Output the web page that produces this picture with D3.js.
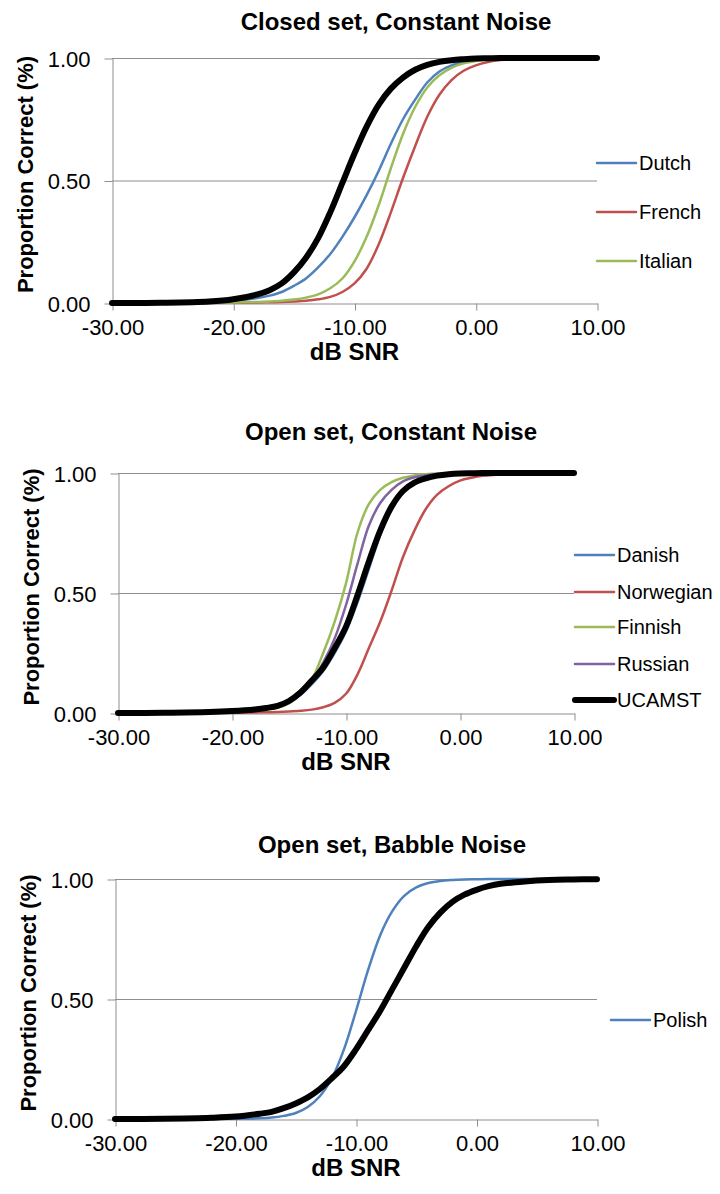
<!DOCTYPE html>
<html>
<head>
<meta charset="utf-8">
<script src="https://cdn.jsdelivr.net/npm/d3@7"></script>
<style>
  body { margin: 0; background: #fff; }
  svg { font-family: "Liberation Sans", Arial, Helvetica, sans-serif; }
  .grid line { stroke: #8e8e8e; stroke-width: 1; }
  .axis path, .axis line { stroke: #8e8e8e; stroke-width: 1; }
  .axis text { fill: #000; font-size: 22px; }
</style>
</head>
<body>
<script>
var snr = [-30, -26, -22, -20, -18, -17, -16, -15, -14, -13, -12, -11, -10, -9, -8, -7, -6, -5, -4, -3, -2, -1, 0, 1, 2, 4, 6, 8, 10];

var titles = ["Closed set, Constant Noise", "Open set, Constant Noise", "Open set, Babble Noise"];
var xTicks = [-30, -20, -10, 0, 10];
var yTicks = [0, 0.5, 1];

// closed set, constant noise
var dutch = [0, 0.001, 0.003, 0.008, 0.02, 0.03, 0.045, 0.07, 0.1, 0.145, 0.2, 0.27, 0.35, 0.44, 0.54, 0.65, 0.75, 0.83, 0.9, 0.945, 0.97, 0.985, 0.993, 0.997, 0.999, 1, 1, 1, 1];
var french = [0, 0, 0, 0.001, 0.002, 0.003, 0.004, 0.006, 0.009, 0.015, 0.025, 0.045, 0.08, 0.14, 0.24, 0.37, 0.51, 0.64, 0.76, 0.85, 0.91, 0.948, 0.97, 0.984, 0.992, 0.998, 0.999, 1, 1];
var italian = [0, 0, 0.001, 0.002, 0.004, 0.006, 0.009, 0.014, 0.022, 0.035, 0.06, 0.1, 0.17, 0.27, 0.4, 0.55, 0.69, 0.8, 0.88, 0.93, 0.96, 0.978, 0.988, 0.994, 0.997, 0.999, 1, 1, 1];
var ucamstClosed = [0, 0.001, 0.006, 0.015, 0.035, 0.052, 0.08, 0.125, 0.185, 0.265, 0.37, 0.49, 0.61, 0.72, 0.81, 0.875, 0.92, 0.952, 0.972, 0.984, 0.991, 0.995, 0.998, 0.999, 1, 1, 1, 1, 1];

// open set, constant noise
var danish = [0, 0.001, 0.004, 0.007, 0.013, 0.018, 0.025, 0.043, 0.075, 0.12, 0.175, 0.25, 0.34, 0.46, 0.6, 0.74, 0.85, 0.92, 0.958, 0.977, 0.988, 0.994, 0.997, 0.999, 1, 1, 1, 1, 1];
var norwegian = [0, 0, 0, 0.001, 0.002, 0.003, 0.004, 0.006, 0.009, 0.014, 0.024, 0.042, 0.08, 0.16, 0.27, 0.38, 0.51, 0.65, 0.76, 0.85, 0.91, 0.945, 0.968, 0.98, 0.988, 0.996, 0.999, 1, 1];
var finnish = [0, 0.001, 0.003, 0.006, 0.011, 0.015, 0.022, 0.04, 0.08, 0.14, 0.25, 0.38, 0.54, 0.75, 0.87, 0.93, 0.962, 0.98, 0.99, 0.995, 0.998, 0.999, 1, 1, 1, 1, 1, 1, 1];
var russian = [0, 0.001, 0.003, 0.006, 0.012, 0.017, 0.025, 0.045, 0.08, 0.13, 0.21, 0.31, 0.45, 0.62, 0.78, 0.875, 0.93, 0.965, 0.982, 0.991, 0.996, 0.998, 0.999, 1, 1, 1, 1, 1, 1];
var ucamstOpen = [0, 0.001, 0.004, 0.008, 0.015, 0.021, 0.03, 0.05, 0.085, 0.135, 0.19, 0.27, 0.36, 0.49, 0.63, 0.76, 0.86, 0.925, 0.96, 0.978, 0.989, 0.995, 0.998, 0.999, 1, 1, 1, 1, 1];

// open set, babble noise
var polish = [0, 0, 0, 0.001, 0.003, 0.006, 0.013, 0.025, 0.05, 0.095, 0.17, 0.29, 0.45, 0.62, 0.765, 0.865, 0.93, 0.965, 0.983, 0.992, 0.996, 0.998, 0.999, 1, 1, 1, 1, 1, 1];
var ucamstBabble = [0, 0.001, 0.005, 0.01, 0.022, 0.03, 0.045, 0.065, 0.09, 0.125, 0.17, 0.22, 0.29, 0.37, 0.45, 0.54, 0.63, 0.72, 0.8, 0.86, 0.905, 0.935, 0.955, 0.97, 0.98, 0.99, 0.996, 0.998, 0.999];

var BLUE = "#4f81bd", RED = "#c0504d", GREEN = "#9bbb59", PURPLE = "#8064a2";

var width = 720, height = 1194;
var svg = d3.select("body").append("svg")
    .attr("width", width)
    .attr("height", height);

var panels = [
    { title: titles[0], left: 112, right: 597, top: 58, bottom: 303, titleY: 30, titleX: 396,
      legendX: 597, legendY: [163, 212, 261],
      series: [
        { name: "Dutch", values: dutch, color: BLUE },
        { name: "French", values: french, color: RED },
        { name: "Italian", values: italian, color: GREEN },
        { name: null, values: ucamstClosed, color: "#000", thick: true }
      ] },
    { title: titles[1], left: 118, right: 574, top: 473, bottom: 713, titleY: 440, titleX: 391,
      legendX: 575, legendY: [555, 592, 627, 664, 700],
      series: [
        { name: "Danish", values: danish, color: BLUE },
        { name: "Norwegian", values: norwegian, color: RED },
        { name: "Finnish", values: finnish, color: GREEN },
        { name: "Russian", values: russian, color: PURPLE },
        { name: "UCAMST", values: ucamstOpen, color: "#000", thick: true }
      ] },
    { title: titles[2], left: 115, right: 597, top: 879, bottom: 1119, titleY: 853, titleX: 392,
      legendX: 611, legendY: [1020],
      series: [
        { name: "Polish", values: polish, color: BLUE },
        { name: null, values: ucamstBabble, color: "#000", thick: true }
      ] }
];

panels.forEach(drawPanel);

function fmt(d) {
    return d.toFixed(2);
}

function drawPanel(p) {
    var x = d3.scaleLinear().domain([-30, 10]).range([p.left, p.right]);
    var y = d3.scaleLinear().domain([0, 1]).range([p.bottom, p.top]);
    var g = svg.append("g");

    // horizontal gridlines
    g.append("g").attr("class", "grid")
        .selectAll("line")
        .data(yTicks.filter(function(d) { return d > 0; }))
        .enter().append("line")
        .attr("x1", p.left).attr("x2", p.right)
        .attr("y1", function(d) { return y(d) + 0.5; })
        .attr("y2", function(d) { return y(d) + 0.5; });

    var yAxis = g.append("g").attr("class", "axis")
        .attr("transform", "translate(" + (p.left + 0.5) + ",0.5)")
        .call(d3.axisLeft(y).tickValues(yTicks).tickFormat(fmt).tickSize(8).tickSizeOuter(0).tickPadding(14));
    yAxis.selectAll("text").attr("dy", "0.36em");

    var xAxis = g.append("g").attr("class", "axis")
        .attr("transform", "translate(0.5," + (p.bottom + 0.5) + ")")
        .call(d3.axisBottom(x).tickValues(xTicks).tickFormat(fmt).tickSize(7).tickSizeOuter(0));
    xAxis.selectAll("text").attr("y", 31).attr("dy", 0);

    // curves
    var line = d3.line()
        .x(function(d, i) { return x(snr[i]); })
        .y(function(d) { return y(d); })
        .curve(d3.curveCatmullRom.alpha(0.5));

    g.selectAll("path.curve")
        .data(p.series)
        .enter().append("path")
        .attr("class", "curve")
        .attr("d", function(s) { return line(s.values); })
        .attr("fill", "none")
        .attr("stroke", function(s) { return s.color; })
        .attr("stroke-width", function(s) { return s.thick ? 6 : 2.5; })
        .attr("stroke-linejoin", "round")
        .attr("stroke-linecap", "round");

    // titles
    svg.append("text")
        .attr("x", p.titleX).attr("y", p.titleY)
        .attr("text-anchor", "middle")
        .style("font-size", "24px").style("font-weight", "bold")
        .text(p.title);

    svg.append("text")
        .attr("x", (p.left + p.right) / 2).attr("y", p.bottom + 57)
        .attr("text-anchor", "middle")
        .style("font-size", "24px").style("font-weight", "bold")
        .text("dB SNR");

    svg.append("text")
        .attr("transform", "translate(" + (p.left - 79) + "," + ((p.top + p.bottom) / 2 - 6) + ") rotate(-90)")
        .attr("text-anchor", "middle")
        .style("font-size", "22px").style("font-weight", "bold")
        .text("Proportion Correct (%)");

    // legend (only named series)
    var named = p.series.filter(function(s) { return s.name; });
    var lg = svg.append("g").selectAll("g")
        .data(named)
        .enter().append("g")
        .attr("transform", function(s, i) { return "translate(" + p.legendX + "," + p.legendY[i] + ")"; });
    lg.append("line")
        .attr("x1", 0).attr("x2", 39)
        .attr("stroke", function(s) { return s.color; })
        .attr("stroke-width", function(s) { return s.thick ? 6 : 2.5; })
        .attr("stroke-linecap", "round");
    lg.append("text")
        .attr("x", 42).attr("dy", "0.36em")
        .style("font-size", "20px")
        .text(function(s) { return s.name; });
}
</script>
</body>
</html>
